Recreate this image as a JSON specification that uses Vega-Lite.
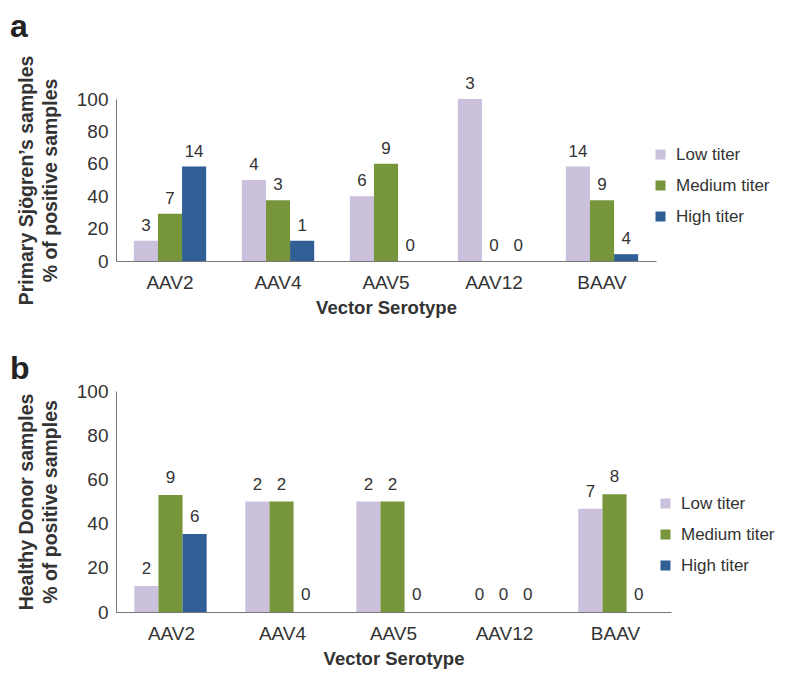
{
  "$schema": "https://vega.github.io/schema/vega-lite/v6.json",
  "background": "white",
  "padding": {"left": 10, "top": 11, "right": 5, "bottom": 5},
  "config": {
    "font": "Liberation Sans",
    "view": {"stroke": null},
    "axis": {"labelFont": "Liberation Sans", "titleFont": "Liberation Sans", "labelColor": "#333333", "titleColor": "#333333", "domainColor": "#777777", "ticks": false, "grid": false, "labelFontSize": 19, "titleFontSize": 19.5, "titleFontWeight": "bold"},
    "legend": {"labelFontSize": 17, "labelColor": "#333333", "symbolType": "square", "symbolSize": 100, "symbolStrokeWidth": 0, "rowPadding": 13, "labelOffset": 7},
    "title": {"fontSize": 32, "fontWeight": "bold", "anchor": "start", "frame": "group", "color": "#222222"},
    "concat": {"spacing": 36}
  },
  "datasets": {
    "d": [
      {"panel": "a", "serotype": "AAV2", "titer": "Low titer", "pct": 12.5, "n": "3"},
      {"panel": "a", "serotype": "AAV2", "titer": "Medium titer", "pct": 29.2, "n": "7"},
      {"panel": "a", "serotype": "AAV2", "titer": "High titer", "pct": 58.3, "n": "14"},
      {"panel": "a", "serotype": "AAV4", "titer": "Low titer", "pct": 50, "n": "4"},
      {"panel": "a", "serotype": "AAV4", "titer": "Medium titer", "pct": 37.5, "n": "3"},
      {"panel": "a", "serotype": "AAV4", "titer": "High titer", "pct": 12.5, "n": "1"},
      {"panel": "a", "serotype": "AAV5", "titer": "Low titer", "pct": 40, "n": "6"},
      {"panel": "a", "serotype": "AAV5", "titer": "Medium titer", "pct": 60, "n": "9"},
      {"panel": "a", "serotype": "AAV5", "titer": "High titer", "pct": 0, "n": "0"},
      {"panel": "a", "serotype": "AAV12", "titer": "Low titer", "pct": 100, "n": "3"},
      {"panel": "a", "serotype": "AAV12", "titer": "Medium titer", "pct": 0, "n": "0"},
      {"panel": "a", "serotype": "AAV12", "titer": "High titer", "pct": 0, "n": "0"},
      {"panel": "a", "serotype": "BAAV", "titer": "Low titer", "pct": 58.3, "n": "14"},
      {"panel": "a", "serotype": "BAAV", "titer": "Medium titer", "pct": 37.5, "n": "9"},
      {"panel": "a", "serotype": "BAAV", "titer": "High titer", "pct": 4.2, "n": "4"},
      {"panel": "b", "serotype": "AAV2", "titer": "Low titer", "pct": 11.8, "n": "2"},
      {"panel": "b", "serotype": "AAV2", "titer": "Medium titer", "pct": 52.9, "n": "9"},
      {"panel": "b", "serotype": "AAV2", "titer": "High titer", "pct": 35.3, "n": "6"},
      {"panel": "b", "serotype": "AAV4", "titer": "Low titer", "pct": 50, "n": "2"},
      {"panel": "b", "serotype": "AAV4", "titer": "Medium titer", "pct": 50, "n": "2"},
      {"panel": "b", "serotype": "AAV4", "titer": "High titer", "pct": 0, "n": "0"},
      {"panel": "b", "serotype": "AAV5", "titer": "Low titer", "pct": 50, "n": "2"},
      {"panel": "b", "serotype": "AAV5", "titer": "Medium titer", "pct": 50, "n": "2"},
      {"panel": "b", "serotype": "AAV5", "titer": "High titer", "pct": 0, "n": "0"},
      {"panel": "b", "serotype": "AAV12", "titer": "Low titer", "pct": 0, "n": "0"},
      {"panel": "b", "serotype": "AAV12", "titer": "Medium titer", "pct": 0, "n": "0"},
      {"panel": "b", "serotype": "AAV12", "titer": "High titer", "pct": 0, "n": "0"},
      {"panel": "b", "serotype": "BAAV", "titer": "Low titer", "pct": 46.7, "n": "7"},
      {"panel": "b", "serotype": "BAAV", "titer": "Medium titer", "pct": 53.3, "n": "8"},
      {"panel": "b", "serotype": "BAAV", "titer": "High titer", "pct": 0, "n": "0"}
    ]
  },
  "resolve": {"legend": {"color": "independent"}},
  "vconcat": [
    {
      "title": {"text": "a", "dx": -106, "offset": 11},
      "width": 540,
      "height": 162,
      "data": {"name": "d"},
      "transform": [{"filter": "datum.panel === 'a'"}],
      "encoding": {
        "x": {"field": "serotype", "type": "nominal", "sort": ["AAV2", "AAV4", "AAV5", "AAV12", "BAAV"], "scale": {"paddingInner": 0.33, "paddingOuter": 0.165}, "axis": {"labelAngle": 0, "title": "Vector Serotype", "labelPadding": 12, "titlePadding": 6, "titleFontSize": 18.5}},
        "xOffset": {"field": "titer", "type": "nominal", "sort": ["Low titer", "Medium titer", "High titer"]},
        "y": {"field": "pct", "type": "quantitative", "scale": {"domain": [0, 100]}, "axis": {"values": [0, 20, 40, 60, 80, 100], "title": ["Primary Sjögren’s samples", "% of positive samples"], "titleLineHeight": 24, "titlePadding": 16, "labelPadding": 8}}
      },
      "layer": [
        {
          "mark": {"type": "bar"},
          "encoding": {
            "color": {"field": "titer", "type": "nominal", "sort": ["Low titer", "Medium titer", "High titer"], "scale": {"domain": ["Low titer", "Medium titer", "High titer"], "range": ["#cbc1dc", "#77963b", "#2f5f95"]}, "legend": {"title": null, "orient": "none", "legendX": 536, "legendY": 47}}
          }
        },
        {
          "mark": {"type": "text", "baseline": "bottom", "dy": -6, "fontSize": 17, "color": "#333333"},
          "encoding": {"text": {"field": "n"}}
        }
      ]
    },
    {
      "title": {"text": "b", "dx": -106, "offset": -4},
      "width": 555,
      "height": 221,
      "data": {"name": "d"},
      "transform": [{"filter": "datum.panel === 'b'"}],
      "encoding": {
        "x": {"field": "serotype", "type": "nominal", "sort": ["AAV2", "AAV4", "AAV5", "AAV12", "BAAV"], "scale": {"paddingInner": 0.33, "paddingOuter": 0.165}, "axis": {"labelAngle": 0, "title": "Vector Serotype", "labelPadding": 12, "titlePadding": 6, "titleFontSize": 18.5}},
        "xOffset": {"field": "titer", "type": "nominal", "sort": ["Low titer", "Medium titer", "High titer"]},
        "y": {"field": "pct", "type": "quantitative", "scale": {"domain": [0, 100]}, "axis": {"values": [0, 20, 40, 60, 80, 100], "title": ["Healthy Donor samples", "% of positive samples"], "titleLineHeight": 24, "titlePadding": 16, "labelPadding": 8}}
      },
      "layer": [
        {
          "mark": {"type": "bar"},
          "encoding": {
            "color": {"field": "titer", "type": "nominal", "sort": ["Low titer", "Medium titer", "High titer"], "scale": {"domain": ["Low titer", "Medium titer", "High titer"], "range": ["#cbc1dc", "#77963b", "#2f5f95"]}, "legend": {"title": null, "orient": "none", "legendX": 541, "legendY": 104}}
          }
        },
        {
          "mark": {"type": "text", "baseline": "bottom", "dy": -8, "fontSize": 17, "color": "#333333"},
          "encoding": {"text": {"field": "n"}}
        }
      ]
    }
  ]
}
